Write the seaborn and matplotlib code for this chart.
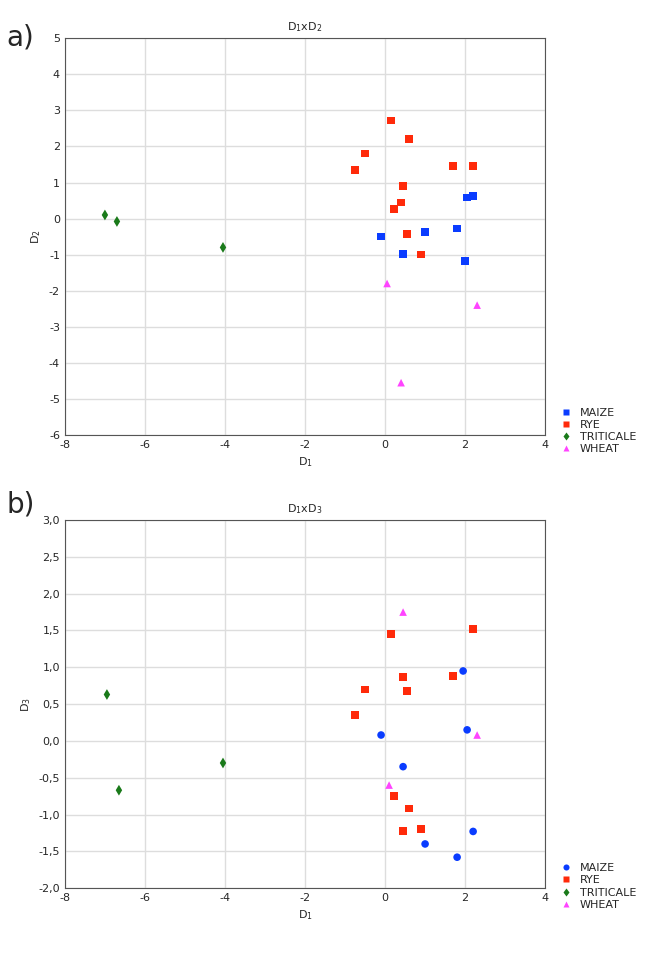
import matplotlib
matplotlib.use("Agg")
import matplotlib.pyplot as plt
import seaborn as sns
import pandas as pd

sns.set_theme(style="whitegrid")
plt.rcParams['font.family'] = ['DejaVu Sans']
plt.rcParams['axes.unicode_minus'] = False

groups = ["MAIZE", "RYE", "TRITICALE", "WHEAT"]
colors = {"MAIZE": "#0a3cff", "RYE": "#ff2a0a", "TRITICALE": "#1a7a1a", "WHEAT": "#ff44ff"}

maize_d1 = [-0.1, 0.45, 1.0, 1.8, 2.0, 2.05, 2.2]
maize_d2 = [-0.5, -0.98, -0.38, -0.28, -1.18, 0.58, 0.62]
rye_d1 = [0.15, 0.6, -0.5, -0.75, 1.7, 2.2, 0.45, 0.4, 0.22, 0.55, 0.9]
rye_d2 = [2.72, 2.2, 1.8, 1.35, 1.45, 1.45, 0.9, 0.45, 0.27, -0.42, -1.0]
trit_d1 = [-7.0, -6.7, -4.05]
trit_d2 = [0.1, -0.08, -0.8]
wheat_d1 = [0.05, 2.3, 0.4]
wheat_d2 = [-1.8, -2.4, -4.55]

maize_b_d1 = [1.95, 2.05, -0.1, 0.45, 2.2, 1.0, 1.8]
maize_b_d3 = [0.95, 0.15, 0.08, -0.35, -1.23, -1.4, -1.58]
rye_b_d1 = [0.15, 2.2, 0.45, 1.7, -0.5, 0.55, -0.75, 0.22, 0.6, 0.9, 0.45]
rye_b_d3 = [1.45, 1.52, 0.87, 0.88, 0.7, 0.68, 0.35, -0.75, -0.92, -1.2, -1.22]
trit_b_d1 = [-6.95, -4.05, -6.65]
trit_b_d3 = [0.63, -0.3, -0.67]
wheat_b_d1 = [0.45, 2.3, 0.1]
wheat_b_d3 = [1.75, 0.08, -0.6]

def frame(sets):
    rows = []
    for g, xs, ys in sets:
        for x, y in zip(xs, ys):
            rows.append((g, x, y))
    return pd.DataFrame(rows, columns=["group", "x", "y"])

dfa = frame([("MAIZE", maize_d1, maize_d2), ("RYE", rye_d1, rye_d2),
             ("TRITICALE", trit_d1, trit_d2), ("WHEAT", wheat_d1, wheat_d2)])
dfb = frame([("MAIZE", maize_b_d1, maize_b_d3), ("RYE", rye_b_d1, rye_b_d3),
             ("TRITICALE", trit_b_d1, trit_b_d3), ("WHEAT", wheat_b_d1, wheat_b_d3)])

fig = plt.figure(figsize=(6.49, 9.56), dpi=100)
ax1 = fig.add_axes([0.10, 0.545, 0.74, 0.415])
ax2 = fig.add_axes([0.10, 0.071, 0.74, 0.385])

def draw(ax, df, markers, title, ylabel, yticks, ylim, ylabfmt):
    sns.scatterplot(data=df, x="x", y="y", hue="group", style="group", hue_order=groups,
                    style_order=groups, palette=colors, markers=markers, s=30,
                    edgecolor="none", ax=ax, legend=True)
    ax.set_xlim(-8, 4)
    ax.set_ylim(*ylim)
    ax.set_xticks(range(-8, 5, 2))
    ax.set_yticks(yticks)
    ax.set_yticklabels([ylabfmt(v) for v in yticks])
    ax.tick_params(labelsize=8, length=0)
    ax.set_title(title, fontsize=8)
    ax.set_xlabel("D$_1$", fontsize=8)
    ax.set_ylabel(ylabel, fontsize=8)
    for s in ax.spines.values():
        s.set_color("#555555")
        s.set_linewidth(0.8)
    ax.grid(color="#dddddd", linewidth=1)
    ax.legend(loc="upper left", bbox_to_anchor=(1.01, 0.08), frameon=False,
              fontsize=8, handletextpad=0.3, borderaxespad=0, labelspacing=0.2,
              markerscale=0.8)

draw(ax1, dfa, {"MAIZE": "s", "RYE": "s", "TRITICALE": "d", "WHEAT": "^"},
     "D$_1$xD$_2$", "D$_2$", list(range(-6, 6)), (-6, 5), lambda v: str(v))
draw(ax2, dfb, {"MAIZE": "o", "RYE": "s", "TRITICALE": "d", "WHEAT": "^"},
     "D$_1$xD$_3$", "D$_3$", [-2.0 + 0.5 * i for i in range(11)], (-2, 3),
     lambda v: f"{v:.1f}".replace(".", ","))
fig.text(0.01, 0.975, "a)", fontsize=20, va="top")
fig.text(0.01, 0.487, "b)", fontsize=20, va="top")
fig.savefig("out.png", dpi=100)
